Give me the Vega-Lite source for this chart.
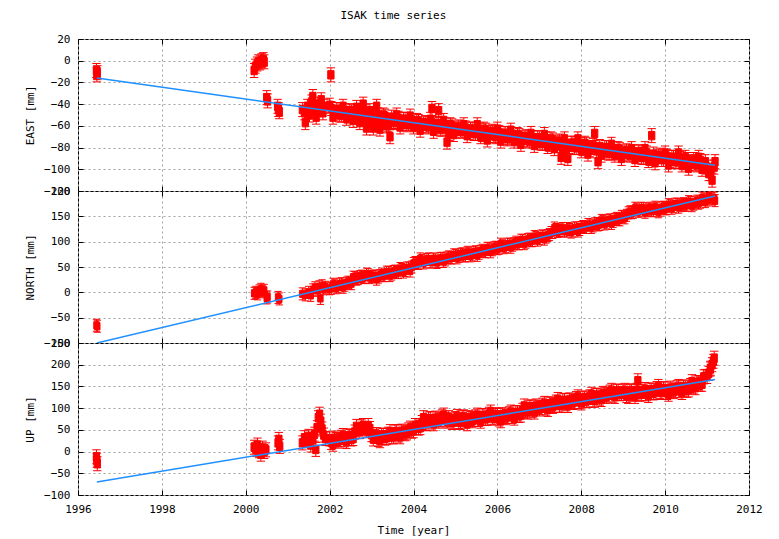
{
"$schema":"https://vega.github.io/schema/vega-lite/v6.json",
"padding":{"left":24,"top":9,"right":14,"bottom":2},
"bounds":"flush",
"title":{"text":"ISAK time series","fontSize":11,"fontWeight":"normal","color":"#000","anchor":"middle","offset":12,"font":"DejaVu Sans Mono"},
"config":{
 "font":"DejaVu Sans Mono",
 "view":{"stroke":"#000","strokeWidth":1},
 "axis":{"labelFont":"DejaVu Sans Mono","labelFontSize":11,"labelColor":"#000","titleFont":"DejaVu Sans Mono","titleFontSize":11,"titleFontWeight":"normal","titleColor":"#000","gridColor":"#a0a0a0","gridDash":[2,3],"gridOpacity":1,"domain":false,"tickColor":"#000","tickSize":-5,"tickWidth":1,"labelPadding":13,"titlePadding":8,"labelFlush":false,"labelOverlap":false,"labelBound":false},
 "axisX":{"titlePadding":10}
},
"spacing":0,
"datasets":{
"fit":[{"t":1996.45,"e":-16,"n":-100,"u":-70},{"t":2011.19,"e":-96.2,"n":190,"u":165.8}],
"obs":[
{"t":1996.44,"e":-9,"n":-65,"u":-12},{"t":1996.45,"e":-13,"u":-20},{"t":1996.46,"e":-11,"n":-67,"u":-28},
{"t":2000.2,"e":-9,"n":-2,"u":10},{"t":2000.23,"e":-5},{"t":2000.24,"n":0,"u":5},{"t":2000.27,"e":-3},{"t":2000.28,"n":-3,"u":15},{"t":2000.3,"e":-1},{"t":2000.32,"n":3,"u":2},{"t":2000.34,"e":-2},{"t":2000.36,"n":6,"u":-6},{"t":2000.38,"e":0},{"t":2000.4,"n":1,"u":8},{"t":2000.42,"e":1},{"t":2000.44,"e":-1,"n":4,"u":0},{"t":2000.48,"u":4},
{"t":2000.5,"e":-34,"n":-11},{"t":2000.52,"e":-37,"n":-9},
{"t":2000.76,"e":-42},{"t":2000.77,"n":-10,"u":20},{"t":2000.78,"e":-45},{"t":2000.79,"u":28},{"t":2000.8,"e":-47,"n":-13},{"t":2000.81,"u":12},
{"t":2001.35,"e":-45,"n":-3,"u":20},{"t":2001.4,"e":-48,"u":32},{"t":2001.42,"e":-57,"n":-5},{"t":2001.45,"u":25},{"t":2001.47,"e":-42},{"t":2001.5,"n":0,"u":35},{"t":2001.52,"e":-50},{"t":2001.55,"n":-6,"u":15},{"t":2001.57,"e":-38},{"t":2001.6,"e":-33,"n":5,"u":28},{"t":2001.64,"e":-46,"u":40},{"t":2001.65,"n":9},{"t":2001.67,"u":5},{"t":2001.68,"e":-52},{"t":2001.7,"n":4,"u":55},{"t":2001.72,"e":-40},{"t":2001.73,"u":78},{"t":2001.75,"n":11},{"t":2001.76,"e":-44,"u":86},{"t":2001.78,"n":-12},{"t":2001.79,"u":70},{"t":2001.8,"e":-36},{"t":2001.82,"n":13,"u":52},{"t":2001.84,"e":-48},{"t":2001.86,"n":7,"u":38},{"t":2001.88,"e":-42},{"t":2001.9,"n":10,"u":30},
{"t":2002.03,"e":-13},{"t":2004.44,"e":-44},{"t":2004.6,"e":-46},{"t":2009.35,"u":163},
{"t":2011.08,"u":190},{"t":2011.15,"u":208},{"t":2011.17,"e":-98,"n":186,"u":215},{"t":2011.19,"e":-93,"n":181},
{"t":2002.00,"e":-41,"n":7,"u":29},
{"t":2002.08,"e":-52,"n":16,"u":17},
{"t":2002.16,"e":-45,"n":9,"u":28},
{"t":2002.24,"e":-50,"n":16,"u":27},
{"t":2002.32,"e":-42,"n":10,"u":37},
{"t":2002.40,"e":-53,"n":18,"u":23},
{"t":2002.48,"e":-46,"n":18,"u":35},
{"t":2002.56,"e":-55,"n":30,"u":30},
{"t":2002.64,"e":-43,"n":26,"u":58},
{"t":2002.72,"e":-57,"n":31,"u":46},
{"t":2002.80,"e":-40,"n":29,"u":60},
{"t":2002.88,"e":-62,"n":36,"u":48},
{"t":2002.96,"e":-46,"n":29,"u":53},
{"t":2003.04,"e":-62,"n":32,"u":29},
{"t":2003.12,"e":-42,"n":26,"u":39},
{"t":2003.20,"e":-63,"n":33,"u":25},
{"t":2003.28,"e":-50,"n":33,"u":37},
{"t":2003.36,"e":-60,"n":40,"u":32},
{"t":2003.44,"e":-70,"n":33,"u":46},
{"t":2003.52,"e":-56,"n":41,"u":34},
{"t":2003.60,"e":-50,"n":39,"u":46},
{"t":2003.68,"e":-61,"n":47,"u":34},
{"t":2003.76,"e":-54,"n":40,"u":45},
{"t":2003.84,"e":-59,"n":48,"u":43},
{"t":2003.92,"e":-51,"n":42,"u":54},
{"t":2004.00,"e":-61,"n":57,"u":48},
{"t":2004.08,"e":-55,"n":58,"u":60},
{"t":2004.16,"e":-64,"n":66,"u":55},
{"t":2004.24,"e":-58,"n":58,"u":78},
{"t":2004.32,"e":-60,"n":65,"u":64},
{"t":2004.40,"e":-54,"n":60,"u":76},
{"t":2004.48,"e":-65,"n":66,"u":64},
{"t":2004.56,"e":-58,"n":59,"u":75},
{"t":2004.64,"e":-63,"n":67,"u":73},
{"t":2004.72,"e":-55,"n":61,"u":84},
{"t":2004.80,"e":-75,"n":68,"u":70},
{"t":2004.88,"e":-59,"n":68,"u":73},
{"t":2004.96,"e":-68,"n":74,"u":68},
{"t":2005.04,"e":-62,"n":68,"u":81},
{"t":2005.12,"e":-64,"n":75,"u":67},
{"t":2005.20,"e":-59,"n":72,"u":80},
{"t":2005.28,"e":-69,"n":79,"u":64},
{"t":2005.36,"e":-63,"n":72,"u":76},
{"t":2005.44,"e":-67,"n":79,"u":74},
{"t":2005.52,"e":-59,"n":73,"u":84},
{"t":2005.60,"e":-70,"n":81,"u":70},
{"t":2005.68,"e":-63,"n":81,"u":82},
{"t":2005.76,"e":-73,"n":87,"u":77},
{"t":2005.84,"e":-66,"n":80,"u":91},
{"t":2005.92,"e":-69,"n":88,"u":77},
{"t":2006.00,"e":-63,"n":86,"u":83},
{"t":2006.08,"e":-74,"n":95,"u":71},
{"t":2006.16,"e":-67,"n":88,"u":82},
{"t":2006.24,"e":-72,"n":95,"u":81},
{"t":2006.32,"e":-64,"n":89,"u":91},
{"t":2006.40,"e":-74,"n":96,"u":77},
{"t":2006.48,"e":-68,"n":96,"u":89},
{"t":2006.56,"e":-77,"n":103,"u":84},
{"t":2006.64,"e":-71,"n":96,"u":105},
{"t":2006.72,"e":-73,"n":104,"u":91},
{"t":2006.80,"e":-67,"n":102,"u":103},
{"t":2006.88,"e":-78,"n":110,"u":91},
{"t":2006.96,"e":-71,"n":103,"u":102},
{"t":2007.04,"e":-76,"n":111,"u":101},
{"t":2007.12,"e":-68,"n":105,"u":111},
{"t":2007.20,"e":-79,"n":112,"u":97},
{"t":2007.28,"e":-72,"n":118,"u":109},
{"t":2007.36,"e":-81,"n":127,"u":106},
{"t":2007.44,"e":-75,"n":120,"u":120},
{"t":2007.52,"e":-89,"n":125,"u":106},
{"t":2007.60,"e":-72,"n":121,"u":118},
{"t":2007.68,"e":-90,"n":126,"u":106},
{"t":2007.76,"e":-76,"n":119,"u":117},
{"t":2007.84,"e":-80,"n":127,"u":115},
{"t":2007.92,"e":-72,"n":121,"u":126},
{"t":2008.00,"e":-83,"n":128,"u":112},
{"t":2008.08,"e":-76,"n":128,"u":123},
{"t":2008.16,"e":-86,"n":134,"u":118},
{"t":2008.24,"e":-80,"n":128,"u":132},
{"t":2008.32,"e":-67,"n":135,"u":118},
{"t":2008.40,"e":-93,"n":133,"u":130},
{"t":2008.48,"e":-87,"n":142,"u":120},
{"t":2008.56,"e":-80,"n":135,"u":132},
{"t":2008.64,"e":-85,"n":142,"u":130},
{"t":2008.72,"e":-77,"n":136,"u":141},
{"t":2008.80,"e":-87,"n":144,"u":127},
{"t":2008.88,"e":-81,"n":144,"u":139},
{"t":2008.96,"e":-90,"n":150,"u":134},
{"t":2009.04,"e":-84,"n":147,"u":141},
{"t":2009.12,"e":-86,"n":157,"u":127},
{"t":2009.20,"e":-81,"n":157,"u":140},
{"t":2009.28,"e":-91,"n":166,"u":127},
{"t":2009.36,"e":-84,"n":160,"u":139},
{"t":2009.44,"e":-89,"n":166,"u":133},
{"t":2009.52,"e":-81,"n":158,"u":143},
{"t":2009.60,"e":-92,"n":164,"u":129},
{"t":2009.68,"e":-69,"n":162,"u":141},
{"t":2009.76,"e":-94,"n":168,"u":136},
{"t":2009.84,"e":-88,"n":159,"u":150},
{"t":2009.92,"e":-91,"n":167,"u":136},
{"t":2010.00,"e":-85,"n":165,"u":144},
{"t":2010.08,"e":-96,"n":173,"u":132},
{"t":2010.16,"e":-89,"n":166,"u":142},
{"t":2010.24,"e":-93,"n":174,"u":141},
{"t":2010.32,"e":-85,"n":168,"u":150},
{"t":2010.40,"e":-96,"n":173,"u":136},
{"t":2010.48,"e":-89,"n":172,"u":147},
{"t":2010.56,"e":-99,"n":179,"u":142},
{"t":2010.64,"e":-93,"n":171,"u":161},
{"t":2010.72,"e":-95,"n":178,"u":147},
{"t":2010.80,"e":-89,"n":176,"u":159},
{"t":2010.88,"e":-100,"n":186,"u":155},
{"t":2010.96,"e":-93,"n":179,"u":173},
{"t":2011.04,"e":-104,"n":190,"u":180},
{"t":2011.12,"e":-110,"n":184,"u":200},
{"t":2002.04,"e":-44,"n":8,"u":21},
{"t":2002.12,"e":-49,"n":14,"u":31},
{"t":2002.20,"e":-45,"n":11,"u":24},
{"t":2002.28,"e":-50,"n":17,"u":33},
{"t":2002.36,"e":-46,"n":14,"u":27},
{"t":2002.44,"e":-51,"n":20,"u":36},
{"t":2002.52,"e":-47,"n":17,"u":29},
{"t":2002.60,"e":-51,"n":29,"u":45},
{"t":2002.68,"e":-46,"n":27,"u":46},
{"t":2002.76,"e":-54,"n":32,"u":57},
{"t":2002.84,"e":-47,"n":30,"u":52},
{"t":2002.92,"e":-55,"n":35,"u":60},
{"t":2003.00,"e":-49,"n":31,"u":39},
{"t":2003.08,"e":-56,"n":32,"u":35},
{"t":2003.16,"e":-50,"n":30,"u":28},
{"t":2003.24,"e":-55,"n":36,"u":38},
{"t":2003.32,"e":-51,"n":33,"u":31},
{"t":2003.40,"e":-59,"n":39,"u":40},
{"t":2003.48,"e":-52,"n":36,"u":34},
{"t":2003.56,"e":-57,"n":42,"u":45},
{"t":2003.64,"e":-53,"n":39,"u":38},
{"t":2003.72,"e":-58,"n":45,"u":47},
{"t":2003.80,"e":-54,"n":43,"u":41},
{"t":2003.88,"e":-58,"n":48,"u":50},
{"t":2003.96,"e":-55,"n":50,"u":47},
{"t":2004.04,"e":-59,"n":59,"u":60},
{"t":2004.12,"e":-56,"n":57,"u":54},
{"t":2004.20,"e":-60,"n":63,"u":67},
{"t":2004.28,"e":-57,"n":60,"u":65},
{"t":2004.36,"e":-61,"n":66,"u":75},
{"t":2004.44,"e":-57,"n":60,"u":68},
{"t":2004.52,"e":-62,"n":64,"u":77},
{"t":2004.60,"e":-58,"n":61,"u":70},
{"t":2004.68,"e":-63,"n":67,"u":80},
{"t":2004.76,"e":-59,"n":64,"u":73},
{"t":2004.84,"e":-67,"n":70,"u":78},
{"t":2004.92,"e":-60,"n":68,"u":67},
{"t":2005.00,"e":-65,"n":73,"u":76},
{"t":2005.08,"e":-61,"n":71,"u":69},
{"t":2005.16,"e":-65,"n":76,"u":78},
{"t":2005.24,"e":-62,"n":72,"u":70},
{"t":2005.32,"e":-66,"n":77,"u":78},
{"t":2005.40,"e":-63,"n":74,"u":71},
{"t":2005.48,"e":-67,"n":80,"u":80},
{"t":2005.56,"e":-64,"n":77,"u":74},
{"t":2005.64,"e":-68,"n":83,"u":83},
{"t":2005.72,"e":-64,"n":80,"u":76},
{"t":2005.80,"e":-69,"n":86,"u":86},
{"t":2005.88,"e":-65,"n":84,"u":79},
{"t":2005.96,"e":-70,"n":89,"u":85},
{"t":2006.04,"e":-66,"n":87,"u":75},
{"t":2006.12,"e":-71,"n":92,"u":85},
{"t":2006.20,"e":-67,"n":90,"u":78},
{"t":2006.28,"e":-71,"n":95,"u":87},
{"t":2006.36,"e":-68,"n":93,"u":81},
{"t":2006.44,"e":-72,"n":99,"u":90},
{"t":2006.52,"e":-69,"n":96,"u":83},
{"t":2006.60,"e":-73,"n":102,"u":95},
{"t":2006.68,"e":-70,"n":99,"u":93},
{"t":2006.76,"e":-74,"n":105,"u":102},
{"t":2006.84,"e":-71,"n":102,"u":95},
{"t":2006.92,"e":-75,"n":108,"u":105},
{"t":2007.00,"e":-71,"n":106,"u":98},
{"t":2007.08,"e":-76,"n":111,"u":107},
{"t":2007.16,"e":-72,"n":109,"u":100},
{"t":2007.24,"e":-77,"n":114,"u":110},
{"t":2007.32,"e":-73,"n":118,"u":104},
{"t":2007.40,"e":-78,"n":124,"u":114},
{"t":2007.48,"e":-74,"n":122,"u":107},
{"t":2007.56,"e":-82,"n":126,"u":117},
{"t":2007.64,"e":-81,"n":121,"u":110},
{"t":2007.72,"e":-79,"n":124,"u":119},
{"t":2007.80,"e":-76,"n":121,"u":113},
{"t":2007.88,"e":-80,"n":127,"u":122},
{"t":2007.96,"e":-77,"n":124,"u":115},
{"t":2008.04,"e":-81,"n":130,"u":123},
{"t":2008.12,"e":-77,"n":128,"u":117},
{"t":2008.20,"e":-82,"n":133,"u":126},
{"t":2008.28,"e":-78,"n":131,"u":119},
{"t":2008.36,"e":-83,"n":136,"u":129},
{"t":2008.44,"e":-79,"n":134,"u":123},
{"t":2008.52,"e":-84,"n":140,"u":134},
{"t":2008.60,"e":-80,"n":137,"u":127},
{"t":2008.68,"e":-85,"n":143,"u":137},
{"t":2008.76,"e":-81,"n":140,"u":130},
{"t":2008.84,"e":-85,"n":146,"u":139},
{"t":2008.92,"e":-82,"n":143,"u":133},
{"t":2009.00,"e":-86,"n":149,"u":139},
{"t":2009.08,"e":-83,"n":152,"u":129},
{"t":2009.16,"e":-87,"n":159,"u":138},
{"t":2009.24,"e":-84,"n":158,"u":132},
{"t":2009.32,"e":-88,"n":164,"u":141},
{"t":2009.40,"e":-84,"n":161,"u":132},
{"t":2009.48,"e":-89,"n":165,"u":139},
{"t":2009.56,"e":-85,"n":161,"u":133},
{"t":2009.64,"e":-90,"n":166,"u":142},
{"t":2009.72,"e":-86,"n":161,"u":135},
{"t":2009.80,"e":-91,"n":166,"u":145},
{"t":2009.88,"e":-87,"n":162,"u":138},
{"t":2009.96,"e":-91,"n":168,"u":145},
{"t":2010.04,"e":-88,"n":165,"u":136},
{"t":2010.12,"e":-92,"n":171,"u":146},
{"t":2010.20,"e":-89,"n":169,"u":138},
{"t":2010.28,"e":-93,"n":174,"u":147},
{"t":2010.36,"e":-90,"n":171,"u":140},
{"t":2010.44,"e":-94,"n":175,"u":149},
{"t":2010.52,"e":-91,"n":172,"u":141},
{"t":2010.60,"e":-95,"n":177,"u":152},
{"t":2010.68,"e":-91,"n":174,"u":149},
{"t":2010.76,"e":-96,"n":180,"u":158},
{"t":2010.84,"e":-92,"n":178,"u":155},
{"t":2010.92,"e":-97,"n":184,"u":172},
{"t":2011.00,"e":-98,"n":182,"u":173},
{"t":2011.08,"e":-104,"n":186,"u":192}
]},
"vconcat":[
{"width":671,"height":152,
 "layer":[
  {"data":{"name":"obs"},
   "mark":{"type":"point","shape":"M-0.6,-1H0.6M0,-1V1M-0.6,1H0.6M-0.45,-0.6H0.45V0.6H-0.45Z","filled":true,"fill":"#ff0000","stroke":"#ff0000","strokeWidth":1,"opacity":1,"size":196,"clip":true},
   "encoding":{
    "x":{"field":"t","type":"quantitative","scale":{"domain":[1996,2012],"nice":false,"zero":false},"axis":{"values":[1996,1998,2000,2002,2004,2006,2008,2010,2012],"labels":false,"title":null,"grid":true}},
    "y":{"field":"e","type":"quantitative","scale":{"domain":[-120,20],"nice":false,"zero":false},"axis":{"values":[-120,-100,-80,-60,-40,-20,0,20],"title":"EAST [mm]","grid":true}}}},
  {"data":{"name":"fit"},
   "mark":{"type":"line","color":"#1e90ff","strokeWidth":1.5,"clip":true},
   "encoding":{
    "x":{"field":"t","type":"quantitative","scale":{"domain":[1996,2012],"nice":false,"zero":false},"axis":{"orient":"top","values":[1996,1998,2000,2002,2004,2006,2008,2010,2012],"labels":false,"grid":false,"title":null}},
    "y":{"field":"e","type":"quantitative","scale":{"domain":[-120,20],"nice":false,"zero":false},"axis":{"orient":"right","values":[-120,-100,-80,-60,-40,-20,0,20],"labels":false,"grid":false,"title":null}}}}
 ],
 "resolve":{"axis":{"x":"independent","y":"independent"}}},
{"width":671,"height":152,
 "layer":[
  {"data":{"name":"obs"},
   "mark":{"type":"point","shape":"M-0.6,-1H0.6M0,-1V1M-0.6,1H0.6M-0.45,-0.6H0.45V0.6H-0.45Z","filled":true,"fill":"#ff0000","stroke":"#ff0000","strokeWidth":1,"opacity":1,"size":144,"clip":true},
   "encoding":{
    "x":{"field":"t","type":"quantitative","scale":{"domain":[1996,2012],"nice":false,"zero":false},"axis":{"values":[1996,1998,2000,2002,2004,2006,2008,2010,2012],"labels":false,"title":null,"grid":true}},
    "y":{"field":"n","type":"quantitative","scale":{"domain":[-100,200],"nice":false,"zero":false},"axis":{"values":[-100,-50,0,50,100,150,200],"title":"NORTH [mm]","grid":true}}}},
  {"data":{"name":"fit"},
   "mark":{"type":"line","color":"#1e90ff","strokeWidth":1.5,"clip":true},
   "encoding":{
    "x":{"field":"t","type":"quantitative","scale":{"domain":[1996,2012],"nice":false,"zero":false},"axis":{"orient":"top","values":[1996,1998,2000,2002,2004,2006,2008,2010,2012],"labels":false,"grid":false,"title":null}},
    "y":{"field":"n","type":"quantitative","scale":{"domain":[-100,200],"nice":false,"zero":false},"axis":{"orient":"right","values":[-100,-50,0,50,100,150,200],"labels":false,"grid":false,"title":null}}}}
 ],
 "resolve":{"axis":{"x":"independent","y":"independent"}}},
{"width":671,"height":152,
 "layer":[
  {"data":{"name":"obs"},
   "mark":{"type":"point","shape":"M-0.6,-1H0.6M0,-1V1M-0.6,1H0.6M-0.45,-0.6H0.45V0.6H-0.45Z","filled":true,"fill":"#ff0000","stroke":"#ff0000","strokeWidth":1,"opacity":1,"size":196,"clip":true},
   "encoding":{
    "x":{"field":"t","type":"quantitative","scale":{"domain":[1996,2012],"nice":false,"zero":false},"axis":{"values":[1996,1998,2000,2002,2004,2006,2008,2010,2012],"format":"d","title":"Time [year]","grid":true}},
    "y":{"field":"u","type":"quantitative","scale":{"domain":[-100,250],"nice":false,"zero":false},"axis":{"values":[-100,-50,0,50,100,150,200,250],"title":"UP [mm]","grid":true}}}},
  {"data":{"name":"fit"},
   "mark":{"type":"line","color":"#1e90ff","strokeWidth":1.5,"clip":true},
   "encoding":{
    "x":{"field":"t","type":"quantitative","scale":{"domain":[1996,2012],"nice":false,"zero":false},"axis":{"orient":"top","values":[1996,1998,2000,2002,2004,2006,2008,2010,2012],"labels":false,"grid":false,"title":null}},
    "y":{"field":"u","type":"quantitative","scale":{"domain":[-100,250],"nice":false,"zero":false},"axis":{"orient":"right","values":[-100,-50,0,50,100,150,200,250],"labels":false,"grid":false,"title":null}}}}
 ],
 "resolve":{"axis":{"x":"independent","y":"independent"}}}
]
}
